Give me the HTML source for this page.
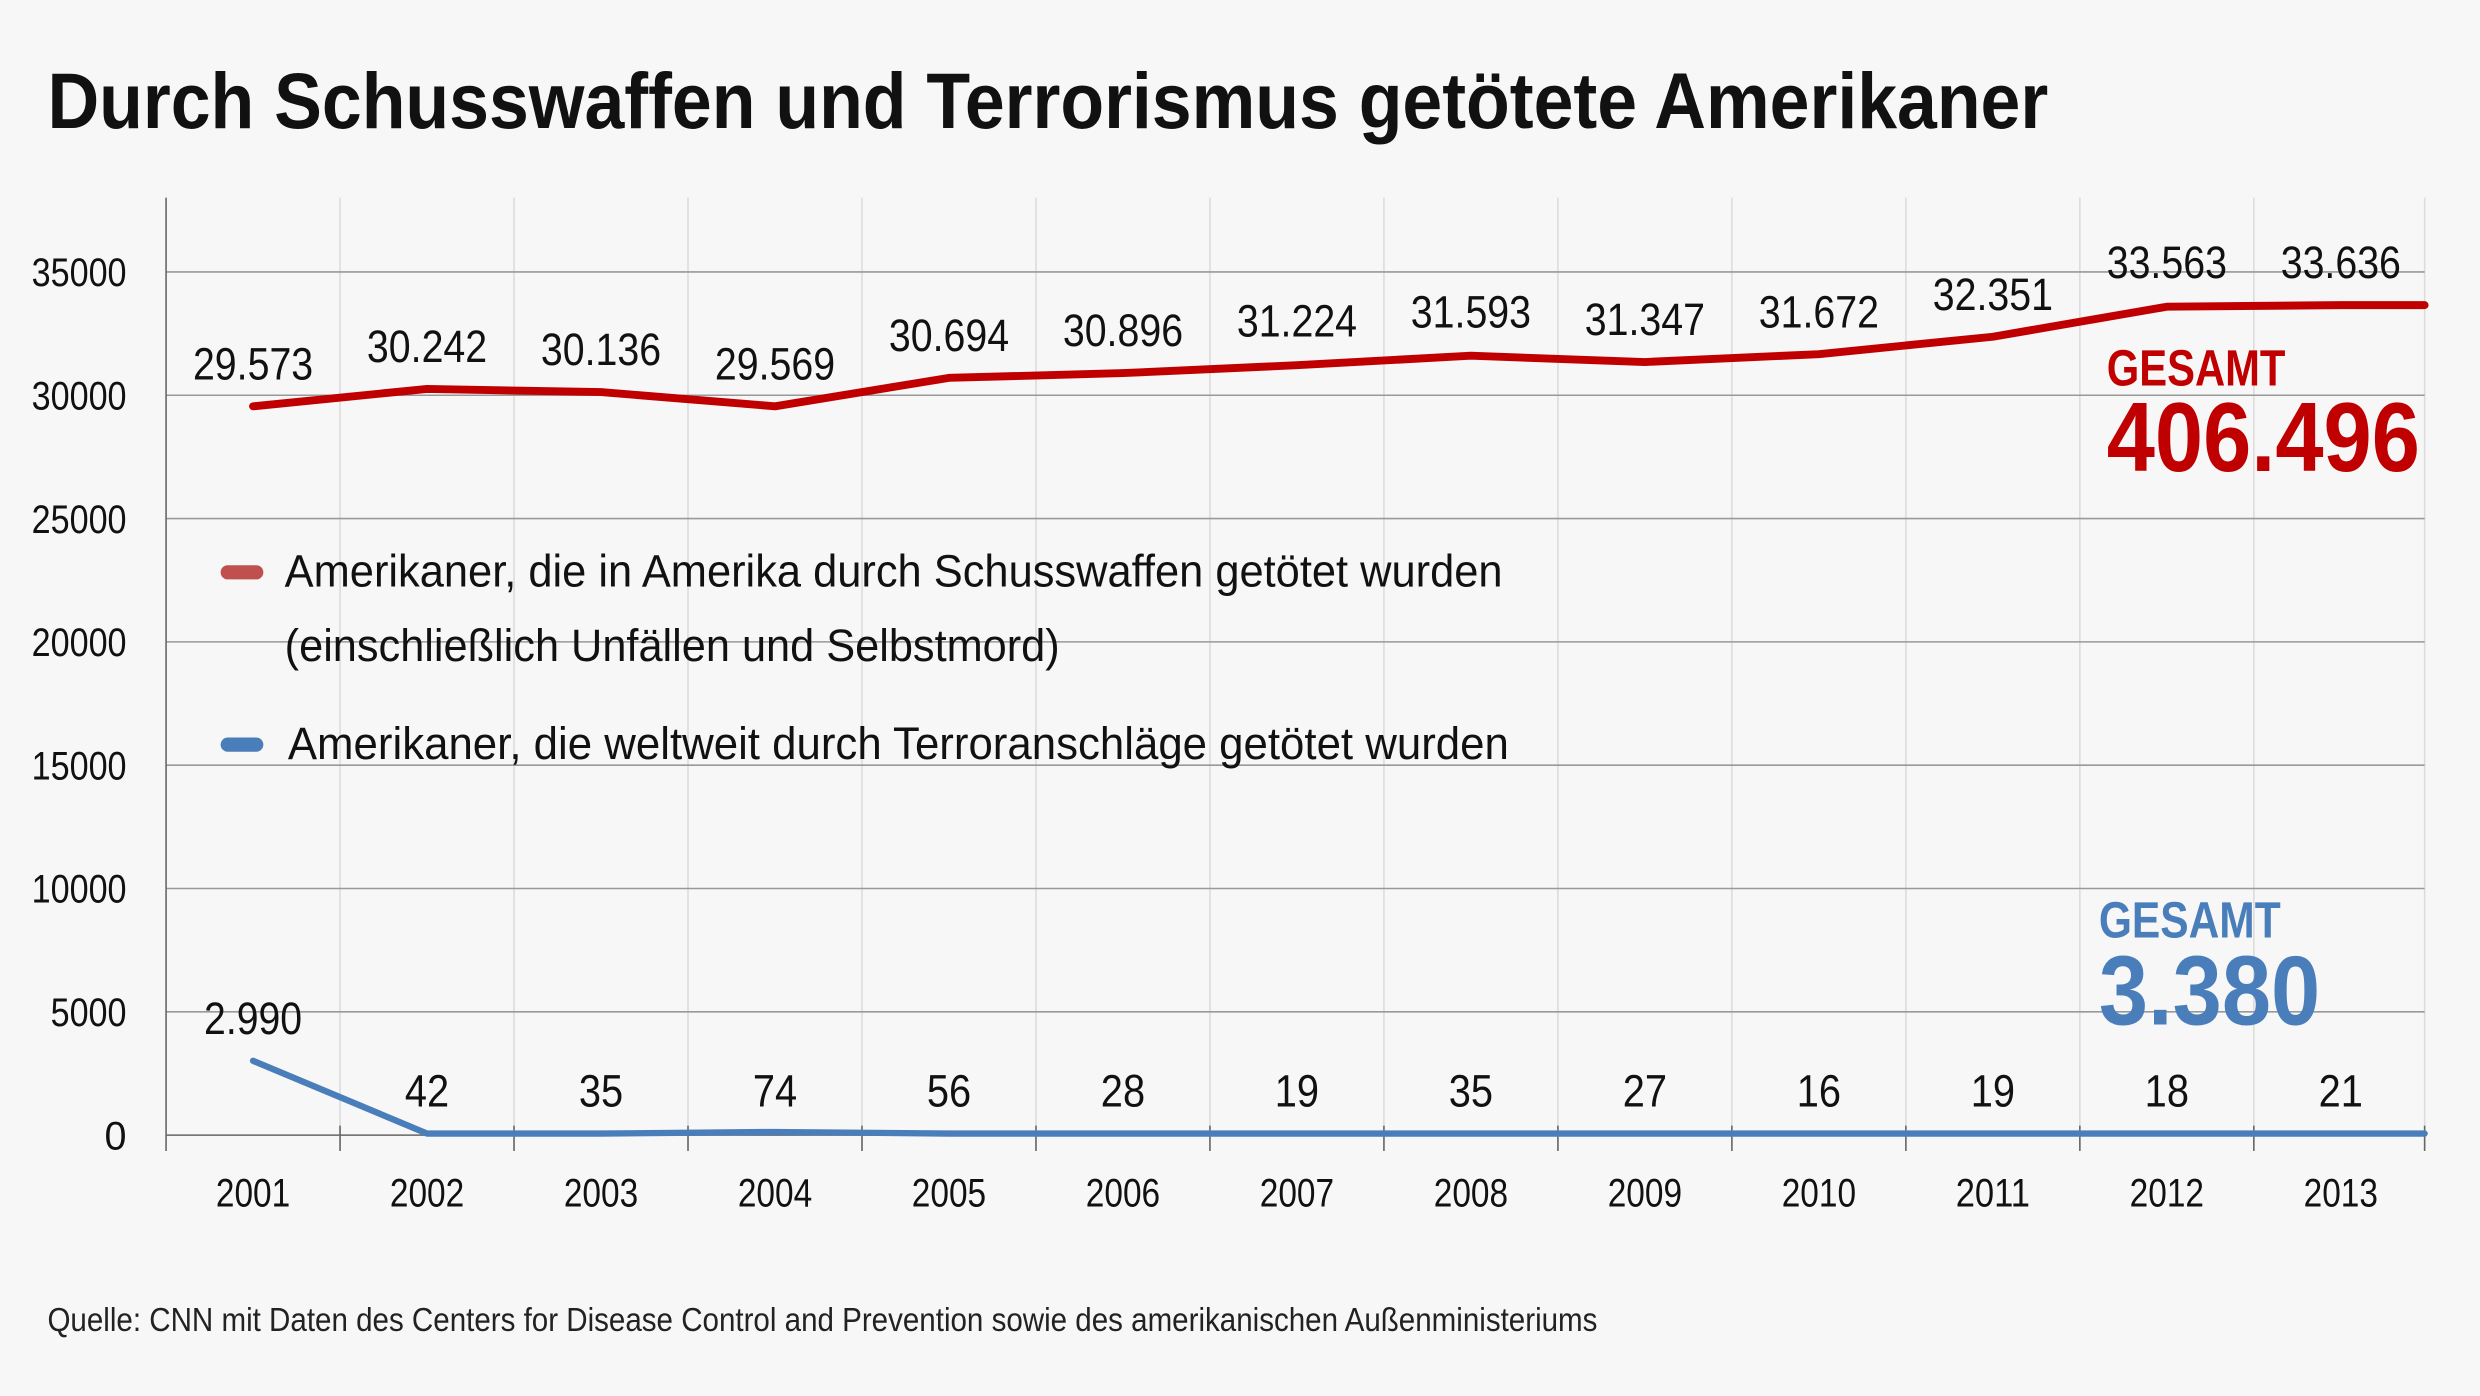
<!DOCTYPE html>
<html><head><meta charset="utf-8"><style>html,body{margin:0;padding:0;background:#f7f7f7}svg{display:block}</style></head>
<body>
<svg width="2480" height="1396" viewBox="0 0 1568 883" preserveAspectRatio="none" xmlns="http://www.w3.org/2000/svg" font-family="'Liberation Sans Narrow','Liberation Sans',sans-serif">
<rect width="1568" height="883" fill="#f7f7f7"/>
<text x="30" y="81" font-size="50" font-weight="bold" textLength="1265" lengthAdjust="spacingAndGlyphs" fill="#111">Durch Schusswaffen und Terrorismus getötete Amerikaner</text>
<g stroke="#dcdcdc" stroke-width="1">
<line x1="215" y1="125" x2="215" y2="728"/><line x1="325" y1="125" x2="325" y2="728"/><line x1="435" y1="125" x2="435" y2="728"/><line x1="545" y1="125" x2="545" y2="728"/><line x1="655" y1="125" x2="655" y2="728"/><line x1="765" y1="125" x2="765" y2="728"/><line x1="875" y1="125" x2="875" y2="728"/><line x1="985" y1="125" x2="985" y2="728"/><line x1="1095" y1="125" x2="1095" y2="728"/><line x1="1205" y1="125" x2="1205" y2="728"/><line x1="1315" y1="125" x2="1315" y2="728"/><line x1="1425" y1="125" x2="1425" y2="728"/><line x1="1533" y1="125" x2="1533" y2="728"/>
</g>
<g stroke="#999" stroke-width="1">
<line x1="105" y1="172" x2="1533" y2="172"/><line x1="105" y1="250" x2="1533" y2="250"/><line x1="105" y1="328" x2="1533" y2="328"/><line x1="105" y1="406" x2="1533" y2="406"/><line x1="105" y1="484" x2="1533" y2="484"/><line x1="105" y1="562" x2="1533" y2="562"/><line x1="105" y1="640" x2="1533" y2="640"/>
</g>
<g stroke="#666" stroke-width="1">
<line x1="105" y1="125" x2="105" y2="728"/><line x1="105" y1="718" x2="1533" y2="718"/>
<line x1="215" y1="712" x2="215" y2="728"/><line x1="325" y1="712" x2="325" y2="728"/><line x1="435" y1="712" x2="435" y2="728"/><line x1="545" y1="712" x2="545" y2="728"/><line x1="655" y1="712" x2="655" y2="728"/><line x1="765" y1="712" x2="765" y2="728"/><line x1="875" y1="712" x2="875" y2="728"/><line x1="985" y1="712" x2="985" y2="728"/><line x1="1095" y1="712" x2="1095" y2="728"/><line x1="1205" y1="712" x2="1205" y2="728"/><line x1="1315" y1="712" x2="1315" y2="728"/><line x1="1425" y1="712" x2="1425" y2="728"/><line x1="1533" y1="712" x2="1533" y2="728"/>
</g>
<g font-size="25" text-anchor="end" fill="#111" lengthAdjust="spacingAndGlyphs">
<text x="80" y="181" textLength="60" lengthAdjust="spacingAndGlyphs">35000</text><text x="80" y="259" textLength="60" lengthAdjust="spacingAndGlyphs">30000</text><text x="80" y="337" textLength="60" lengthAdjust="spacingAndGlyphs">25000</text><text x="80" y="415" textLength="60" lengthAdjust="spacingAndGlyphs">20000</text><text x="80" y="493" textLength="60" lengthAdjust="spacingAndGlyphs">15000</text><text x="80" y="571" textLength="60" lengthAdjust="spacingAndGlyphs">10000</text><text x="80" y="649" textLength="48" lengthAdjust="spacingAndGlyphs">5000</text><text x="80" y="727">0</text>
</g>
<g font-size="25" text-anchor="middle" fill="#111">
<text x="160" y="763" textLength="47" lengthAdjust="spacingAndGlyphs">2001</text><text x="270" y="763" textLength="47" lengthAdjust="spacingAndGlyphs">2002</text><text x="380" y="763" textLength="47" lengthAdjust="spacingAndGlyphs">2003</text><text x="490" y="763" textLength="47" lengthAdjust="spacingAndGlyphs">2004</text><text x="600" y="763" textLength="47" lengthAdjust="spacingAndGlyphs">2005</text><text x="710" y="763" textLength="47" lengthAdjust="spacingAndGlyphs">2006</text><text x="820" y="763" textLength="47" lengthAdjust="spacingAndGlyphs">2007</text><text x="930" y="763" textLength="47" lengthAdjust="spacingAndGlyphs">2008</text><text x="1040" y="763" textLength="47" lengthAdjust="spacingAndGlyphs">2009</text><text x="1150" y="763" textLength="47" lengthAdjust="spacingAndGlyphs">2010</text><text x="1260" y="763" textLength="47" lengthAdjust="spacingAndGlyphs">2011</text><text x="1370" y="763" textLength="47" lengthAdjust="spacingAndGlyphs">2012</text><text x="1480" y="763" textLength="47" lengthAdjust="spacingAndGlyphs">2013</text>
</g>
<polyline fill="none" stroke="#c00000" stroke-width="5" stroke-linejoin="round" stroke-linecap="round" points="160,257 270,246 380,248 490,257 600,239 710,236 820,231 930,225 1040,229 1150,224 1260,213 1370,194 1480,193 1533,193"/>
<polyline fill="none" stroke="#4a7ebb" stroke-width="4" stroke-linejoin="round" stroke-linecap="round" points="160,671 270,717 380,717 490,716 600,717 710,717 820,717 930,717 1040,717 1150,717 1260,717 1370,717 1480,717 1533,717"/>
<g font-size="29" text-anchor="middle" fill="#111">
<text x="160" y="240" textLength="76" lengthAdjust="spacingAndGlyphs">29.573</text><text x="270" y="229" textLength="76" lengthAdjust="spacingAndGlyphs">30.242</text><text x="380" y="231" textLength="76" lengthAdjust="spacingAndGlyphs">30.136</text><text x="490" y="240" textLength="76" lengthAdjust="spacingAndGlyphs">29.569</text><text x="600" y="222" textLength="76" lengthAdjust="spacingAndGlyphs">30.694</text><text x="710" y="219" textLength="76" lengthAdjust="spacingAndGlyphs">30.896</text><text x="820" y="213" textLength="76" lengthAdjust="spacingAndGlyphs">31.224</text><text x="930" y="207" textLength="76" lengthAdjust="spacingAndGlyphs">31.593</text><text x="1040" y="212" textLength="76" lengthAdjust="spacingAndGlyphs">31.347</text><text x="1150" y="207" textLength="76" lengthAdjust="spacingAndGlyphs">31.672</text><text x="1260" y="196" textLength="76" lengthAdjust="spacingAndGlyphs">32.351</text><text x="1370" y="176" textLength="76" lengthAdjust="spacingAndGlyphs">33.563</text><text x="1480" y="176" textLength="76" lengthAdjust="spacingAndGlyphs">33.636</text>
<text x="160" y="654" textLength="62" lengthAdjust="spacingAndGlyphs">2.990</text><text x="270" y="700" textLength="28" lengthAdjust="spacingAndGlyphs">42</text><text x="380" y="700" textLength="28" lengthAdjust="spacingAndGlyphs">35</text><text x="490" y="700" textLength="28" lengthAdjust="spacingAndGlyphs">74</text><text x="600" y="700" textLength="28" lengthAdjust="spacingAndGlyphs">56</text><text x="710" y="700" textLength="28" lengthAdjust="spacingAndGlyphs">28</text><text x="820" y="700" textLength="28" lengthAdjust="spacingAndGlyphs">19</text><text x="930" y="700" textLength="28" lengthAdjust="spacingAndGlyphs">35</text><text x="1040" y="700" textLength="28" lengthAdjust="spacingAndGlyphs">27</text><text x="1150" y="700" textLength="28" lengthAdjust="spacingAndGlyphs">16</text><text x="1260" y="700" textLength="28" lengthAdjust="spacingAndGlyphs">19</text><text x="1370" y="700" textLength="28" lengthAdjust="spacingAndGlyphs">18</text><text x="1480" y="700" textLength="28" lengthAdjust="spacingAndGlyphs">21</text>
</g>
<text x="1332" y="244" font-size="32" font-weight="bold" fill="#c00000" textLength="113" lengthAdjust="spacingAndGlyphs">GESAMT</text>
<text x="1332" y="298" font-size="62" font-weight="bold" fill="#c00000" textLength="198" lengthAdjust="spacingAndGlyphs">406.496</text>
<text x="1327" y="593" font-size="32" font-weight="bold" fill="#4a7ebb" textLength="115" lengthAdjust="spacingAndGlyphs">GESAMT</text>
<text x="1327" y="648" font-size="62" font-weight="bold" fill="#4a7ebb" textLength="140" lengthAdjust="spacingAndGlyphs">3.380</text>
<line x1="144" y1="362" x2="162" y2="362" stroke="#c0504d" stroke-width="9" stroke-linecap="round"/>
<line x1="144" y1="471" x2="162" y2="471" stroke="#4a7ebb" stroke-width="9" stroke-linecap="round"/>
<g font-size="29" fill="#111">
<text x="180" y="371" textLength="770" lengthAdjust="spacingAndGlyphs">Amerikaner, die in Amerika durch Schusswaffen getötet wurden</text>
<text x="180" y="418" textLength="490" lengthAdjust="spacingAndGlyphs">(einschließlich Unfällen und Selbstmord)</text>
<text x="182" y="480" textLength="772" lengthAdjust="spacingAndGlyphs">Amerikaner, die weltweit durch Terroranschläge getötet wurden</text>
</g>
<text x="30" y="842" font-size="21" fill="#222" textLength="980" lengthAdjust="spacingAndGlyphs">Quelle: CNN mit Daten des Centers for Disease Control and Prevention sowie des amerikanischen Außenministeriums</text>
</svg>
</body></html>
